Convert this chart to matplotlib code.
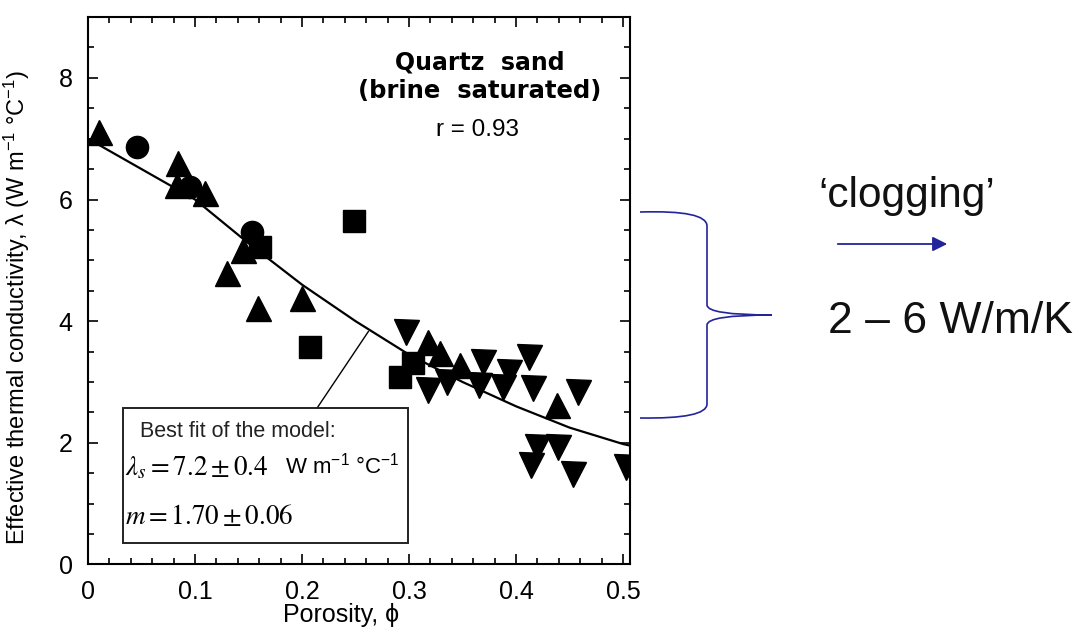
import matplotlib
matplotlib.use('Agg')
import matplotlib.pyplot as plt
from matplotlib.path import Path
from matplotlib.patches import PathPatch, Rectangle
from matplotlib.ticker import MultipleLocator

plt.rcParams['font.family'] = ['Liberation Sans', 'DejaVu Sans']
plt.rcParams['mathtext.fontset'] = 'custom'
plt.rcParams['mathtext.rm'] = 'Liberation Sans'
plt.rcParams['mathtext.it'] = 'Liberation Sans:italic'

# data (porosity, conductivity)
tri_up_phi = [0.010, 0.084, 0.083, 0.109, 0.145, 0.130, 0.159, 0.200, 0.318, 0.329, 0.348, 0.438]
tri_up_lam = [7.11, 6.60, 6.24, 6.11, 5.17, 4.79, 4.22, 4.38, 3.66, 3.48, 3.28, 2.62]

circle_phi = [0.046, 0.095, 0.153]
circle_lam = [6.87, 6.20, 5.47]

square_phi = [0.249, 0.161, 0.207, 0.292, 0.304]
square_lam = [5.65, 5.22, 3.58, 3.08, 3.31]

tri_down_phi = [0.297, 0.318, 0.335, 0.369, 0.365, 0.393, 0.388, 0.412, 0.416, 0.458,
                0.420, 0.439, 0.414, 0.453, 0.503]
tri_down_lam = [3.82, 2.87, 3.00, 3.33, 2.95, 3.16, 2.92, 3.41, 2.90, 2.84,
                1.93, 1.93, 1.64, 1.48, 1.61]

# best fit curve of the model
fit_phi = [0.0, 0.05, 0.1, 0.15, 0.2, 0.25, 0.3, 0.35, 0.4, 0.45, 0.5, 0.505]
fit_lam = [7.0, 6.5, 6.0, 5.28, 4.6, 4.0, 3.45, 3.0, 2.6, 2.25, 1.98, 1.96]

x_ticks = [0, 0.1, 0.2, 0.3, 0.4, 0.5]
x_tick_labels = ['0', '0.1', '0.2', '0.3', '0.4', '0.5']
y_ticks = [0, 2, 4, 6, 8]

fig = plt.figure(figsize=(10.77, 6.3), dpi=100)
ax = fig.add_axes([0.0817, 0.104, 0.5033, 0.869])

ax.plot(fit_phi, fit_lam, color='black', lw=1.6, zorder=2)
ax.plot(tri_up_phi, tri_up_lam, '^', color='black', ms=18, zorder=3)
ax.plot(circle_phi, circle_lam, 'o', color='black', ms=16, zorder=3)
ax.plot(square_phi, square_lam, 's', color='black', ms=15.5, zorder=3)
ax.plot(tri_down_phi, tri_down_lam, 'v', color='black', ms=18, zorder=3)

# box with the fit results and its leader line
ax.plot([0.214, 0.262], [2.57, 3.83], color='black', lw=1.0, zorder=2)
ax.add_patch(Rectangle((0.0327, 0.35), 0.2663, 2.22, facecolor='white',
                       edgecolor='#222222', lw=1.4, zorder=4))
ax.text(0.0486, 2.18, 'Best fit of the model:', fontsize=15.5, va='center', zorder=5,
        color='#222222')
ax.text(0.0346, 1.59, r'$\lambda_s = 7.2 \pm 0.4$', fontsize=19.5, va='center', zorder=5,
        math_fontfamily='stix')
ax.text(0.184, 1.62, r'W m$^{-1}$ °C$^{-1}$', fontsize=16, va='center', zorder=5)
ax.text(0.0346, 0.78, r'$m = 1.70 \pm 0.06$', fontsize=19.5, va='center', zorder=5,
        math_fontfamily='stix')

ax.text(0.366, 8.25, 'Quartz  sand', fontsize=17, fontweight='bold', ha='center',
        va='center', family='DejaVu Sans')
ax.text(0.366, 7.79, '(brine  saturated)', fontsize=17.5, fontweight='bold', ha='center',
        va='center', family='DejaVu Sans')
ax.text(0.364, 7.15, 'r = 0.93', fontsize=17.5, ha='center', va='center')

ax.set_xlim(0, 0.5065)
ax.set_ylim(0, 9)
ax.set_xticks(x_ticks)
ax.set_xticklabels(x_tick_labels)
ax.set_yticks(y_ticks)
ax.xaxis.set_minor_locator(MultipleLocator(0.02))
ax.yaxis.set_minor_locator(MultipleLocator(0.5))
ax.tick_params(which='both', direction='in', top=True, right=True, width=1.2)
ax.tick_params(which='major', length=7.5, labelsize=18, pad=11)
ax.tick_params(which='minor', length=4.5)
for sp in ax.spines.values():
    sp.set_linewidth(1.5)

ax.set_xlabel('Porosity, ϕ', fontsize=18)
ax.xaxis.set_label_coords(0.467, -0.070)
ax.set_ylabel('Effective thermal conductivity, λ (W m$^{-1}$ °C$^{-1}$)', fontsize=17)
ax.yaxis.set_label_coords(-0.103, 0.469)

# overlay in pixel coordinates for the annotation on the right
ov = fig.add_axes([0, 0, 1, 1])
ov.set_xlim(0, 1077)
ov.set_ylim(630, 0)
ov.axis('off')

blue = '#24249a'
verts = [(640, 212), (707, 210), (707, 226),
         (707, 305),
         (707, 315), (772, 315),
         (707, 315), (707, 325),
         (707, 404),
         (707, 419), (640, 418)]
codes = [Path.MOVETO, Path.CURVE3, Path.CURVE3,
         Path.LINETO,
         Path.CURVE3, Path.CURVE3,
         Path.CURVE3, Path.CURVE3,
         Path.LINETO,
         Path.CURVE3, Path.CURVE3]
ov.add_patch(PathPatch(Path(verts, codes), facecolor='none', edgecolor=blue, lw=1.2))

ov.annotate('', xy=(950, 244), xytext=(835, 244),
            arrowprops=dict(arrowstyle='-|>', color=blue, lw=1.3, mutation_scale=22))
ov.text(907, 207, '‘clogging’', fontsize=30.5, ha='center', va='baseline', color='#111111')
ov.text(828, 333, '2 – 6 W/m/K', fontsize=32, ha='left', va='baseline', color='#111111')

fig.savefig('out.png', dpi=100)
